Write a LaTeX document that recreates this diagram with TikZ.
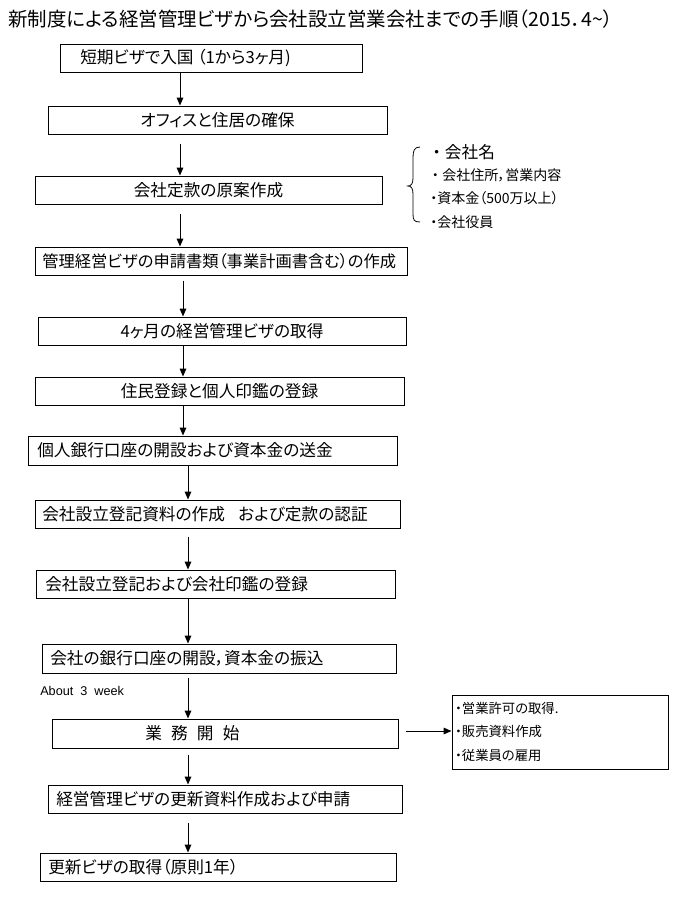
\documentclass[tikz,border=0pt]{standalone}
\usepackage{fontspec}
\setmainfont{Noto Sans CJK JP}[RawFeature=+palt]
\newfontfamily\jpfull{Noto Sans CJK JP}
\newfontfamily\latinfont{Liberation Sans}
\usetikzlibrary{arrows.meta,fit}
\newcommand\mkbox[5]{\path (#2,#3) coordinate (#1nw) (#4,#5) coordinate (#1se);\node[box, fit=(#1nw)(#1se)] (#1) {};}
\newcommand\fbul{{\jpfull ・}}
\begin{document}
\begin{tikzpicture}[x=0.75pt,y=-0.75pt,
  box/.style={draw, line width=0.75pt, inner sep=0pt},
  lbl/.style={inner sep=0pt, font=\fontsize{12.5}{14}\selectfont},
  lleft/.style={lbl, anchor=west},
  arr/.style={line width=0.75pt, -{Triangle[length=6pt,width=5pt]}},
  item/.style={inner sep=0pt, anchor=west, font=\fontsize{10.5}{12}\selectfont},
  ritem/.style={inner sep=0pt, anchor=west, font=\fontsize{10}{12}\selectfont},
]
\useasboundingbox (0,0) rectangle (679,904);
\fill[white] (0,0) rectangle (679,904);

\node[anchor=west, inner sep=0pt, font=\fontsize{14.6}{17}\selectfont] (title) at (8,19) {新制度による経営管理ビザから会社設立営業会社までの手順（2015．4\textasciitilde）};

\mkbox{b1}{60}{44}{362}{72}
\node[lleft] (b1t) at (80,58) {短期ビザで入国 （1から3ヶ月)};
\mkbox{b2}{48}{106}{387}{134}
\node[lbl] (b2t) at (b2) {オフィスと住居の確保};
\mkbox{b3}{35}{176}{382}{204}
\node[lbl] (b3t) at (b3) {会社定款の原案作成};
\mkbox{b4}{35}{247}{407}{275}
\node[lleft, font=\fontsize{12.2}{14}\selectfont] (b4t) at (42,261) {管理経営ビザの申請書類（事業計画書含む）の作成};
\mkbox{b5}{38}{317}{406}{345}
\node[lbl] (b5t) at (b5) {4ヶ月の経営管理ビザの取得};
\mkbox{b6}{35}{377}{404}{405}
\node[lbl] (b6t) at (b6) {住民登録と個人印鑑の登録};
\mkbox{b7}{28}{436}{397}{465}
\node[lleft] (b7t) at (37,450.5) {個人銀行口座の開設および資本金の送金};
\mkbox{b8}{35}{500}{400}{528}
\node[lleft] (b8t) at (42,514) {会社設立登記資料の作成\hspace{0.8em}および定款の認証};
\mkbox{b9}{36}{570}{395}{598}
\node[lleft] (b9t) at (45,584) {会社設立登記および会社印鑑の登録};
\mkbox{b10}{42}{644}{396}{673}
\node[lleft] (b10t) at (50,658.5) {会社の銀行口座の開設，資本金の振込};
\mkbox{b11}{52}{719}{398}{748}
\node[lleft] (b11t) at (145,733.5) {業\hspace{0.55em}務\hspace{0.55em}開\hspace{0.55em}始};
\mkbox{b12}{48}{785}{402}{813}
\node[lleft] (b12t) at (56,799) {経営管理ビザの更新資料作成および申請};
\mkbox{b13}{40}{853}{396}{881}
\node[lleft] (b13t) at (48,867) {更新ビザの取得（原則1年）};

\mkbox{r}{452}{695}{668}{769}
\node[ritem] (r1) at (455,708) {・営業許可の取得.};
\node[ritem] (r2) at (455,731) {・販売資料作成};
\node[ritem] (r3) at (455,755) {・従業員の雇用};

\node[anchor=west, inner sep=0pt, font=\latinfont\fontsize{9.5}{11}\selectfont] (about) at (40,691) {About\ \ 3\ \ week};

% list beside brace
\node[inner sep=0pt, anchor=west, font=\fontsize{12.5}{14}\selectfont] (l1) at (428,152) {\fbul 会社名};
\node[item] (l2) at (428,175) {\fbul 会社住所，営業内容};
\node[item] (l3) at (430,198) {・資本金（500万以上）};
\node[item] (l4) at (430,222) {・会社役員};
\coordinate (brtop) at (420,147);
\coordinate (brbot) at (420,222);
\draw[line width=0.6pt] (brtop) .. controls (414,147) and (413,151) .. (413,158) -- (413,178) .. controls (413,184) and (411,186) .. (408,186) .. controls (411,186) and (413,188) .. (413,194) -- (413,214) .. controls (413,220) and (414,222) .. (brbot);

% arrows
\draw[arr] (b1.south -| 180,0) -- (b2.north -| 180,0);
\draw[arr, shorten <=6.75pt] (b2.south -| 180,0) -- (b3.north -| 180,0);
\draw[arr, shorten <=6.75pt] (b3.south -| 180,0) -- (b4.north -| 180,0);
\draw[arr, shorten <=3.75pt] (b4.south -| 183,0) -- (b5.north -| 183,0);
\draw[arr] (b5.south -| 183,0) -- (b6.north -| 183,0);
\draw[arr] (b6.south -| 183,0) -- (b7.north -| 183,0);
\draw[arr] (b7.south -| 188,0) -- (b8.north -| 188,0);
\draw[arr, shorten <=6pt] (b8.south -| 188,0) -- (b9.north -| 188,0);
\draw[arr] (b9.south -| 188,0) -- (b10.north -| 188,0);
\draw[arr, shorten <=3pt] (b10.south -| 188,0) -- (b11.north -| 188,0);
\draw[arr, shorten <=4.5pt] (b11.south -| 188,0) -- (b12.north -| 188,0);
\draw[arr, shorten <=6.75pt] (b12.south -| 188,0) -- (b13.north -| 188,0);
\draw[arr, shorten <=5.25pt] (b11.east |- 0,731) -- (r.west |- 0,731);
\end{tikzpicture}
\end{document}
